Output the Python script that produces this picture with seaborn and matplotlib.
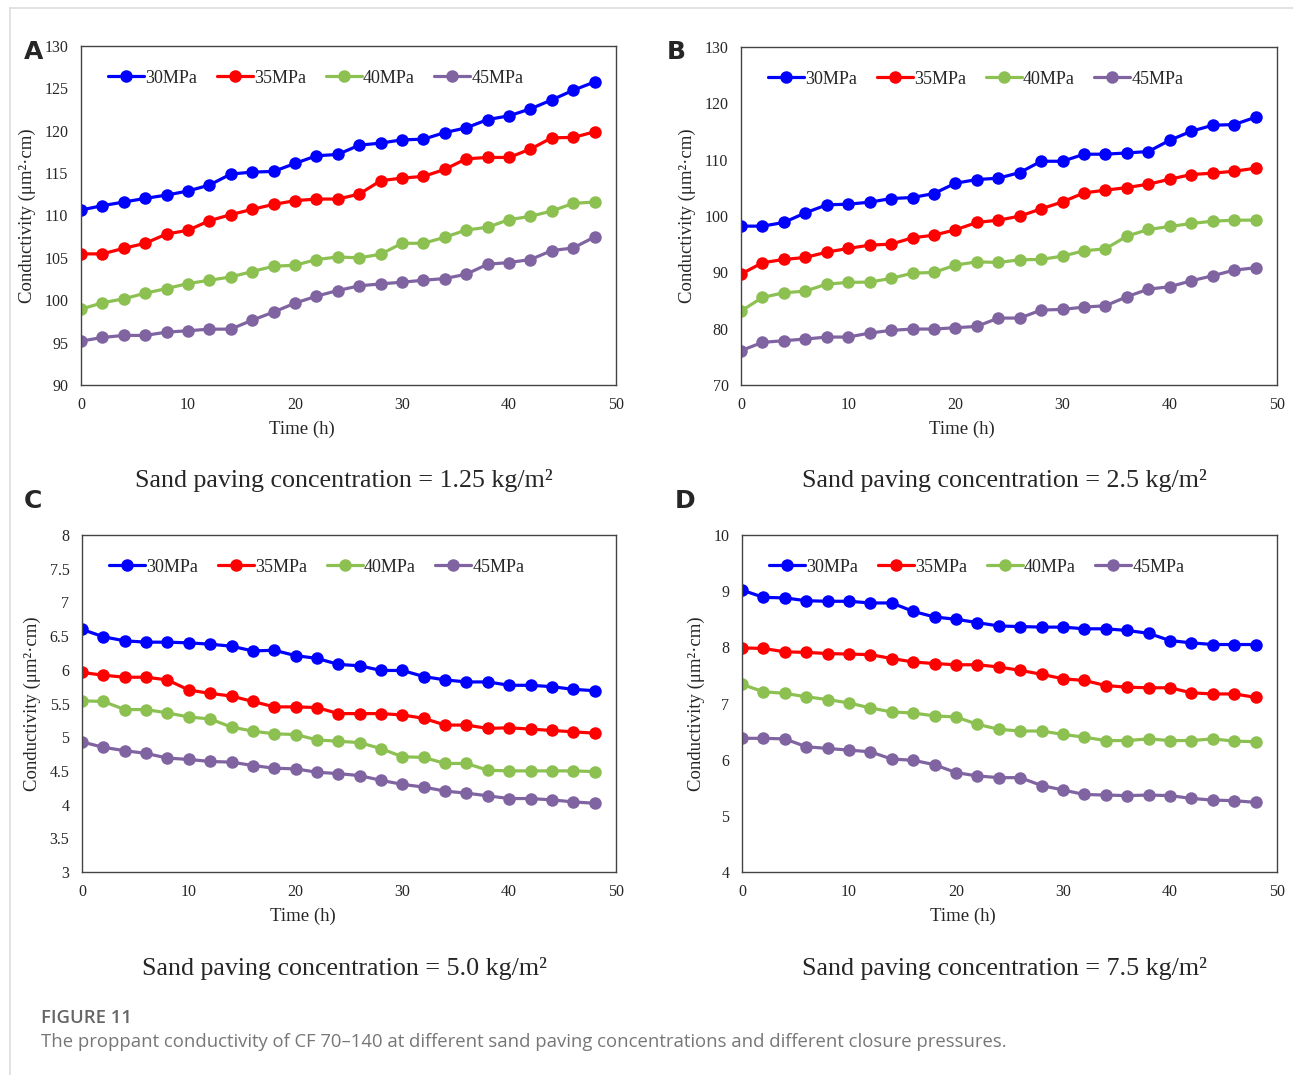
"""Conductivity of CF 70-140 at different sand paving concentrations."""

import pandas as pd
import seaborn as sns
import matplotlib.pyplot as plt
from matplotlib.lines import Line2D
from matplotlib.ticker import FuncFormatter

time_h = [0, 2, 4, 6, 8, 10, 12, 14, 16, 18, 20, 22, 24,
          26, 28, 30, 32, 34, 36, 38, 40, 42, 44, 46, 48]
pressures = ["30MPa", "35MPa", "40MPa", "45MPa"]

# panel A, 1.25 kg/m2
a_30 = [110.65, 111.16, 111.59, 112.02, 112.41, 112.89, 113.59, 114.89, 115.12, 115.2,
        116.14, 117.05, 117.2, 118.3, 118.54, 118.93, 119.0, 119.79, 120.34, 121.32,
        121.76, 122.58, 123.64, 124.78, 125.76]
a_35 = [105.47, 105.47, 106.13, 106.72, 107.82, 108.25, 109.39, 110.1, 110.73, 111.31,
        111.75, 111.94, 111.94, 112.53, 114.1, 114.42, 114.61, 115.44, 116.69, 116.85,
        116.85, 117.83, 119.17, 119.21, 119.87]
a_40 = [98.95, 99.7, 100.17, 100.83, 101.38, 101.97, 102.36, 102.75, 103.39, 104.01,
        104.13, 104.8, 105.11, 105.0, 105.43, 106.72, 106.72, 107.43, 108.29, 108.61,
        109.51, 109.9, 110.53, 111.43, 111.59]
a_45 = [95.18, 95.61, 95.85, 95.85, 96.24, 96.4, 96.59, 96.59, 97.65, 98.6,
        99.66, 100.48, 101.15, 101.7, 101.93, 102.13, 102.36, 102.56, 103.07, 104.25,
        104.45, 104.8, 105.86, 106.17, 107.47]

# panel B, 2.5 kg/m2
b_30 = [98.2, 98.2, 98.85, 100.56, 101.98, 102.1, 102.45, 103.1, 103.28, 103.99,
        105.82, 106.47, 106.71, 107.71, 109.72, 109.72, 110.97, 110.97, 111.2, 111.44,
        113.45, 115.04, 116.11, 116.23, 117.53]
b_35 = [89.69, 91.7, 92.29, 92.64, 93.59, 94.24, 94.83, 95.0, 96.13, 96.6,
        97.55, 98.85, 99.26, 99.97, 101.27, 102.51, 104.11, 104.58, 105.05, 105.65,
        106.53, 107.36, 107.6, 107.95, 108.48]
b_40 = [83.12, 85.55, 86.37, 86.67, 87.91, 88.21, 88.27, 88.92, 89.86, 89.98,
        91.28, 91.87, 91.75, 92.23, 92.29, 92.88, 93.82, 94.18, 96.42, 97.61,
        98.14, 98.67, 99.08, 99.26, 99.26]
b_45 = [76.09, 77.57, 77.86, 78.16, 78.51, 78.51, 79.22, 79.7, 79.93, 79.93,
        80.17, 80.4, 81.88, 81.88, 83.3, 83.42, 83.83, 84.07, 85.67, 87.02,
        87.44, 88.5, 89.39, 90.39, 90.81]

# panel C, 5.0 kg/m2
c_30 = [6.60, 6.49, 6.43, 6.41, 6.41, 6.40, 6.38, 6.35, 6.28, 6.29,
        6.21, 6.17, 6.08, 6.06, 5.99, 5.99, 5.90, 5.85, 5.82, 5.82,
        5.77, 5.77, 5.75, 5.71, 5.69]
c_35 = [5.96, 5.92, 5.89, 5.89, 5.85, 5.70, 5.65, 5.61, 5.53, 5.45,
        5.45, 5.44, 5.35, 5.35, 5.35, 5.33, 5.28, 5.18, 5.18, 5.13,
        5.14, 5.12, 5.10, 5.08, 5.06]
c_40 = [5.54, 5.53, 5.41, 5.41, 5.36, 5.30, 5.27, 5.15, 5.09, 5.05,
        5.04, 4.96, 4.94, 4.92, 4.83, 4.71, 4.70, 4.61, 4.61, 4.51,
        4.50, 4.50, 4.50, 4.50, 4.49]
c_45 = [4.93, 4.85, 4.80, 4.76, 4.69, 4.67, 4.64, 4.63, 4.58, 4.54,
        4.53, 4.48, 4.46, 4.43, 4.36, 4.30, 4.26, 4.20, 4.17, 4.13,
        4.09, 4.09, 4.07, 4.04, 4.02]

# panel D, 7.5 kg/m2
d_30 = [9.02, 8.89, 8.88, 8.83, 8.82, 8.82, 8.79, 8.79, 8.64, 8.54,
        8.50, 8.44, 8.38, 8.37, 8.36, 8.36, 8.33, 8.33, 8.30, 8.25,
        8.12, 8.08, 8.05, 8.05, 8.05]
d_35 = [7.99, 7.98, 7.92, 7.91, 7.89, 7.88, 7.87, 7.80, 7.74, 7.71,
        7.69, 7.69, 7.65, 7.59, 7.52, 7.44, 7.41, 7.32, 7.29, 7.28,
        7.28, 7.19, 7.17, 7.17, 7.11]
d_40 = [7.34, 7.21, 7.18, 7.12, 7.07, 7.01, 6.92, 6.85, 6.83, 6.78,
        6.76, 6.63, 6.54, 6.51, 6.51, 6.45, 6.40, 6.34, 6.34, 6.37,
        6.34, 6.34, 6.37, 6.33, 6.32]
d_45 = [6.38, 6.38, 6.37, 6.23, 6.20, 6.17, 6.14, 6.01, 5.99, 5.91,
        5.77, 5.71, 5.68, 5.68, 5.54, 5.46, 5.38, 5.37, 5.36, 5.37,
        5.36, 5.31, 5.28, 5.27, 5.24]

colors = ["#0000FF", "#FF0000", "#8CC152", "#8064A2"]
serif = ["Liberation Serif", "DejaVu Serif"]

panels = [
    ("A", [a_30, a_35, a_40, a_45], (90, 130), [90, 95, 100, 105, 110, 115, 120, 125, 130], "1.25"),
    ("B", [b_30, b_35, b_40, b_45], (70, 130), [70, 80, 90, 100, 110, 120, 130], "2.5"),
    ("C", [c_30, c_35, c_40, c_45], (3, 8), [3, 3.5, 4, 4.5, 5, 5.5, 6, 6.5, 7, 7.5, 8], "5.0"),
    ("D", [d_30, d_35, d_40, d_45], (4, 10), [4, 5, 6, 7, 8, 9, 10], "7.5"),
]

# axes boxes in pixels: left, top, right, bottom
boxes = [(81, 46, 616, 385), (741, 47, 1277, 385),
         (82, 535, 616, 872), (742, 535, 1277, 872)]
letter_pos = [(24, 52), (667, 52), (24, 501), (675, 501)]

W, H = 1293, 1075
sns.set_style("white")
fig = plt.figure(figsize=(W / 100, H / 100), dpi=100)

fmt = FuncFormatter(lambda v, _: f"{v:g}")

for (letter, series, ylim, yticks, conc), box, lpos in zip(panels, boxes, letter_pos):
    left, top, right, bottom = box
    aw, ah = right - left, bottom - top
    ax = fig.add_axes([left / W, 1 - bottom / H, aw / W, ah / H])
    df = pd.DataFrame({"Time": time_h * 4,
                       "Conductivity": sum(series, []),
                       "Pressure": [p for p in pressures for _ in time_h]})
    sns.lineplot(data=df, x="Time", y="Conductivity", hue="Pressure",
                 palette=colors, marker="o", markersize=9, linewidth=2.3,
                 markeredgewidth=0, ax=ax, legend=False)
    ax.set_xlim(0, 50)
    ax.set_ylim(*ylim)
    ax.set_xticks([0, 10, 20, 30, 40, 50])
    ax.set_yticks(yticks)
    ax.yaxis.set_major_formatter(fmt)
    ax.tick_params(length=0, labelsize=11.5, pad=9)
    for lab in ax.get_xticklabels() + ax.get_yticklabels():
        lab.set_family(serif)
    for sp in ax.spines.values():
        sp.set_color("#444444")
        sp.set_linewidth(1.0)
    ax.set_xlabel("Time (h)", family=serif, fontsize=13.5)
    ax.xaxis.set_label_coords(221 / aw, -36 / ah)
    ax.set_ylabel("Conductivity (μm²·cm)", family=serif, fontsize=13.5, labelpad=6)

    handles = [Line2D([], [], color=c, marker="o", markersize=9, linewidth=2.3,
                      markeredgewidth=0) for c in colors]
    ax.legend(handles, pressures, loc="center left", bbox_to_anchor=(0.02, 0.905),
              ncol=4, frameon=False, handlelength=2.0, handletextpad=0.05,
              columnspacing=1.1, prop={"family": serif, "size": 13})

    cx = (left + right) / 2 - 5
    ty = 480 if top < 100 else 968
    fig.text(cx / W, 1 - ty / H, f"Sand paving concentration = {conc} kg/m²",
             ha="center", va="center", family=serif, fontsize=18.7)
    fig.text(lpos[0] / W, 1 - lpos[1] / H, letter, ha="left", va="center",
             fontsize=18, fontweight="bold", family="DejaVu Sans")

fig.text(41 / W, 1 - 1018 / H, "FIGURE 11", ha="left", va="center",
         fontsize=13.3, fontweight="semibold", color="#666666", family="Open Sans")
fig.text(41 / W, 1 - 1042 / H,
         "The proppant conductivity of CF 70\u2013140 at different sand paving "
         "concentrations and different closure pressures.",
         ha="left", va="center", fontsize=13.3, color="#777777", family="Open Sans")

# thin frame around the figure
fig.add_artist(Line2D([10 / W, 1], [1 - 8 / H, 1 - 8 / H], color="#dddddd", linewidth=1.2))
fig.add_artist(Line2D([10 / W, 10 / W], [0, 1 - 8 / H], color="#dddddd", linewidth=1.2))

fig.savefig("out.png", dpi=100)
plt.close(fig)
